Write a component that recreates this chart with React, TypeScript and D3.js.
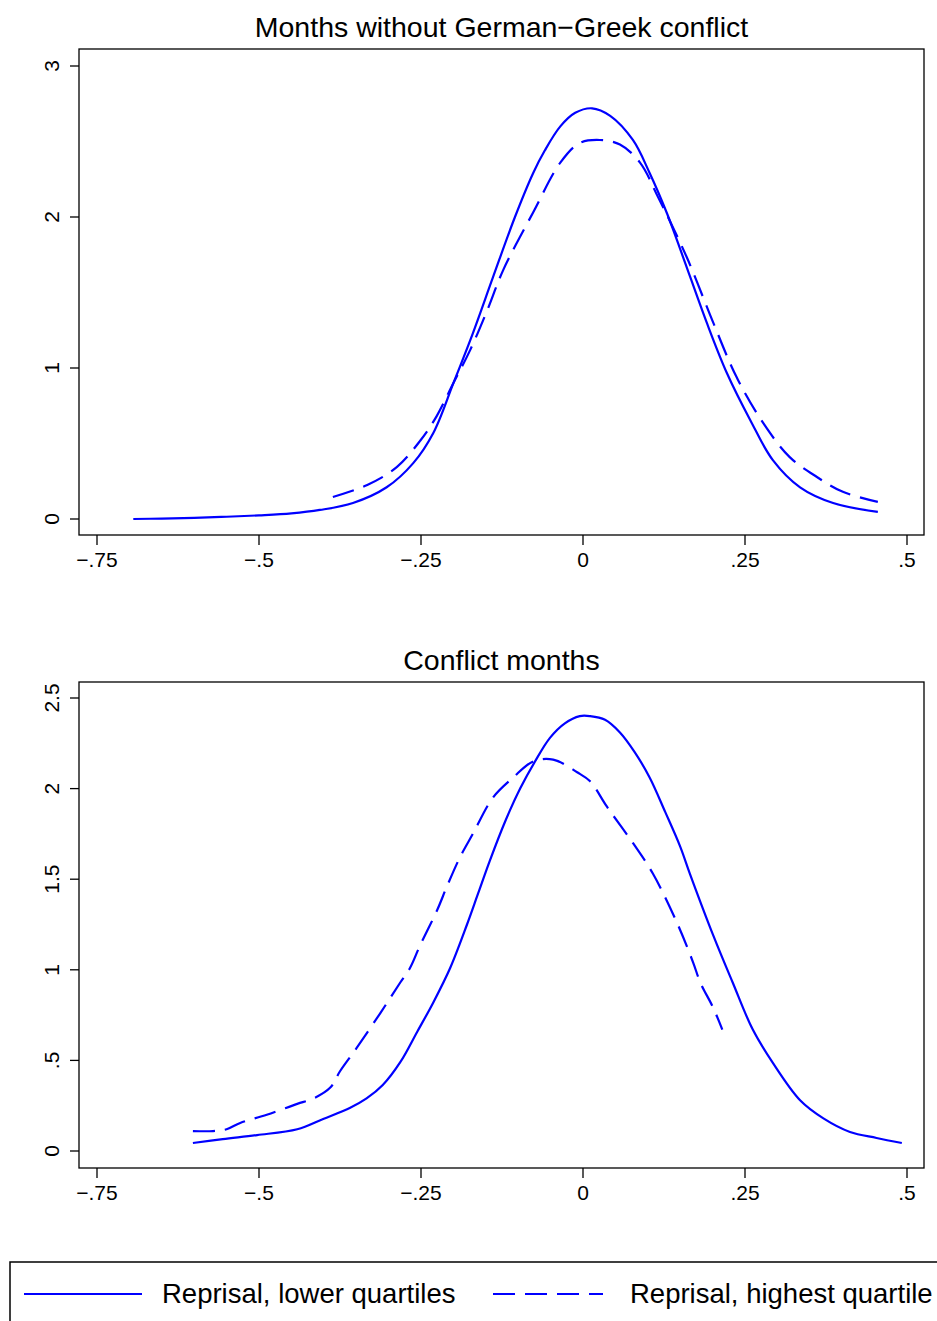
import React from "react";
import * as d3 from "d3";

// ---- data ----
const xTicks = [-0.75, -0.5, -0.25, 0, 0.25, 0.5];
const xTickLabels = ["\u2212.75", "\u2212.5", "\u2212.25", "0", ".25", ".5"];
const topYTicks = [0, 1, 2, 3];
const topYTickLabels = ["0", "1", "2", "3"];
const botYTicks = [0, 0.5, 1, 1.5, 2, 2.5];
const botYTickLabels = ["0", ".5", "1", "1.5", "2", "2.5"];

const topTitle = "Months without German\u2212Greek conflict";
const botTitle = "Conflict months";
const seriesNames = ["Reprisal, lower quartiles", "Reprisal, highest quartile"];

// Top panel: solid (lower quartiles)
const topLowerX = [-0.694, -0.65, -0.6, -0.55, -0.5, -0.45, -0.406, -0.355, -0.303, -0.262, -0.231, -0.2, -0.17, -0.139, -0.105, -0.077, -0.059, -0.035, -0.012, 0.014, 0.042, 0.077, 0.103, 0.13, 0.154, 0.191, 0.222, 0.258, 0.293, 0.335, 0.386, 0.455];
const topLowerY = [0.0, 0.003, 0.007, 0.015, 0.024, 0.037, 0.06, 0.106, 0.21, 0.37, 0.57, 0.9, 1.23, 1.6, 2.0, 2.29, 2.44, 2.6, 2.69, 2.72, 2.67, 2.51, 2.29, 2.02, 1.74, 1.3, 0.967, 0.656, 0.39, 0.21, 0.106, 0.047];

// Top panel: dashed (highest quartile)
const topHighX = [-0.386, -0.333, -0.287, -0.251, -0.226, -0.2, -0.174, -0.148, -0.123, -0.077, -0.035, -0.005, 0.026, 0.057, 0.088, 0.116, 0.16, 0.201, 0.237, 0.278, 0.319, 0.361, 0.401, 0.455];
const topHighY = [0.146, 0.225, 0.345, 0.52, 0.68, 0.9, 1.12, 1.38, 1.65, 2.03, 2.36, 2.49, 2.51, 2.48, 2.36, 2.13, 1.735, 1.3, 0.94, 0.636, 0.41, 0.278, 0.18, 0.113];

// Bottom panel: solid
const botLowerX = [-0.602, -0.556, -0.503, -0.441, -0.401, -0.36, -0.334, -0.309, -0.282, -0.256, -0.231, -0.205, -0.179, -0.162, -0.144, -0.12, -0.097, -0.074, -0.051, -0.028, -0.005, 0.011, 0.034, 0.057, 0.08, 0.103, 0.127, 0.15, 0.165, 0.201, 0.231, 0.262, 0.293, 0.335, 0.371, 0.412, 0.453, 0.492];
const botLowerY = [0.044, 0.066, 0.088, 0.12, 0.177, 0.237, 0.29, 0.364, 0.49, 0.657, 0.82, 1.01, 1.25, 1.42, 1.6, 1.82, 2.0, 2.15, 2.28, 2.36, 2.4, 2.4, 2.38, 2.31, 2.2, 2.06, 1.87, 1.68, 1.53, 1.19, 0.93, 0.67, 0.486, 0.28, 0.18, 0.105, 0.072, 0.044];

// Bottom panel: dashed
const botHighX = [-0.602, -0.571, -0.55, -0.529, -0.488, -0.441, -0.416, -0.39, -0.375, -0.349, -0.313, -0.282, -0.267, -0.252, -0.225, -0.21, -0.19, -0.17, -0.139, -0.108, -0.077, -0.046, -0.009, 0.011, 0.037, 0.077, 0.108, 0.145, 0.17, 0.181, 0.201, 0.215];
const botHighY = [0.11, 0.11, 0.12, 0.155, 0.2, 0.26, 0.29, 0.35, 0.44, 0.57, 0.76, 0.93, 1.01, 1.13, 1.33, 1.46, 1.62, 1.75, 1.95, 2.06, 2.15, 2.16, 2.09, 2.04, 1.9, 1.7, 1.53, 1.26, 1.04, 0.93, 0.79, 0.67];

const W = 937;
const H = 1321;
const FONT = "'Liberation Sans', Arial, Helvetica, sans-serif";
const BLUE = "#0000ff";
const DASH = "22,10";

type PanelProps = {
  top: number;
  bottom: number;
  title: string;
  titleY: number;
  yDomain: [number, number];
  yRange: [number, number];
  yTicks: number[];
  yLabels: string[];
  lowerX: number[];
  lowerY: number[];
  highX: number[];
  highY: number[];
};

const boxLeft = 79;
const boxRight = 924;
const x = d3.scaleLinear().domain([-0.75, 0.5]).range([97, 907]);

function Panel(p: PanelProps) {
  const y = d3.scaleLinear().domain(p.yDomain).range(p.yRange);
  const line = d3
    .line<[number, number]>()
    .x((d) => x(d[0]))
    .y((d) => y(d[1]))
    .curve(d3.curveCatmullRom.alpha(0.5));
  const lower = p.lowerX.map((v, i) => [v, p.lowerY[i]] as [number, number]);
  const high = p.highX.map((v, i) => [v, p.highY[i]] as [number, number]);
  return (
    <g>
      <text x={(boxLeft + boxRight) / 2} y={p.titleY} textAnchor="middle" fontSize={28.5} fontFamily={FONT} fill="#000">
        {p.title}
      </text>
      <rect x={boxLeft} y={p.top} width={boxRight - boxLeft} height={p.bottom - p.top} fill="none" stroke="#000" strokeWidth={1.3} />
      {xTicks.map((t, i) => (
        <g key={"xt" + i}>
          <line x1={x(t)} x2={x(t)} y1={p.bottom} y2={p.bottom + 10} stroke="#000" strokeWidth={1.3} />
          <text x={x(t)} y={p.bottom + 32} textAnchor="middle" fontSize={21} fontFamily={FONT} fill="#000">
            {xTickLabels[i]}
          </text>
        </g>
      ))}
      {p.yTicks.map((t, i) => (
        <g key={"yt" + i}>
          <line x1={boxLeft - 9} x2={boxLeft} y1={y(t)} y2={y(t)} stroke="#000" strokeWidth={1.3} />
          <text
            transform={`translate(${59},${y(t)}) rotate(-90)`}
            textAnchor="middle"
            fontSize={21}
            fontFamily={FONT}
            fill="#000"
          >
            {p.yLabels[i]}
          </text>
        </g>
      ))}
      <path d={line(lower) || ""} fill="none" stroke={BLUE} strokeWidth={2.2} />
      <path d={line(high) || ""} fill="none" stroke={BLUE} strokeWidth={2.2} strokeDasharray={DASH} />
    </g>
  );
}

export default function App() {
  return (
    <svg
      width={W}
      height={H}
      viewBox={`0 0 ${W} ${H}`}
      style={{ position: "absolute", left: 0, top: 0, background: "#fff" }}
    >
      <rect x={0} y={0} width={W} height={H} fill="#fff" />
      <Panel
        top={49}
        bottom={535}
        title={topTitle}
        titleY={37}
        yDomain={[0, 3]}
        yRange={[519, 66]}
        yTicks={topYTicks}
        yLabels={topYTickLabels}
        lowerX={topLowerX}
        lowerY={topLowerY}
        highX={topHighX}
        highY={topHighY}
      />
      <Panel
        top={682}
        bottom={1168}
        title={botTitle}
        titleY={670}
        yDomain={[0, 2.5]}
        yRange={[1151, 698]}
        yTicks={botYTicks}
        yLabels={botYTickLabels}
        lowerX={botLowerX}
        lowerY={botLowerY}
        highX={botHighX}
        highY={botHighY}
      />
      <g>
        <rect x={10} y={1262} width={945} height={90} fill="none" stroke="#000" strokeWidth={1.5} />
        <line x1={24} x2={142} y1={1294} y2={1294} stroke={BLUE} strokeWidth={2.2} />
        <text x={162} y={1303} fontSize={27.5} fontFamily={FONT} fill="#000">
          {seriesNames[0]}
        </text>
        <line x1={493} x2={603} y1={1294} y2={1294} stroke={BLUE} strokeWidth={2.2} strokeDasharray={DASH} />
        <text x={630} y={1303} fontSize={27.5} fontFamily={FONT} fill="#000">
          {seriesNames[1]}
        </text>
      </g>
    </svg>
  );
}
